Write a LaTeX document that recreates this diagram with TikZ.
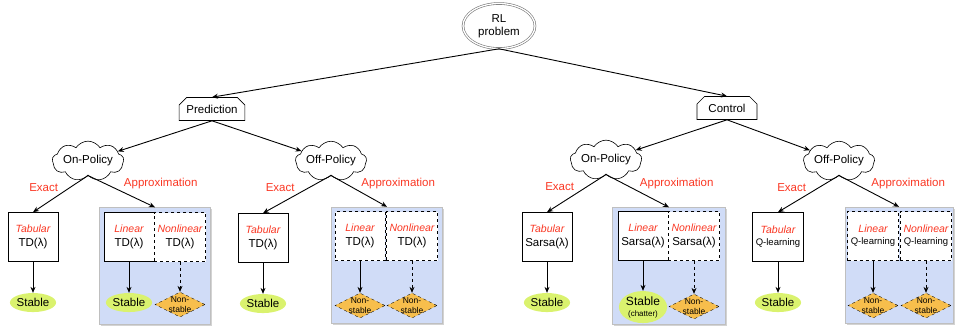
\documentclass[tikz,border=0pt]{standalone}
\usepackage{fontspec}
\setmainfont{Liberation Sans}
\usetikzlibrary{shapes.geometric, shapes.symbols, shapes.misc, arrows.meta, positioning, shadows}

\definecolor{lblred}{RGB}{250,55,35}
\definecolor{regionblue}{RGB}{208,220,247}
\definecolor{stablegreen}{RGB}{218,242,110}
\definecolor{unstableorange}{RGB}{247,190,76}

% red italic method kind above the algorithm name
\newcommand{\algkind}[1]{{\fontsize{10.5}{11}\selectfont\itshape\color{lblred}#1}}

\begin{document}
\begin{tikzpicture}[x=1pt, y=-1pt,
    root/.style={ellipse, draw=black!55, line width=0.6pt, double=white, double distance=1.3pt, minimum width=72pt, minimum height=45pt, align=center, font=\fontsize{11.5}{13.5}\selectfont},
    task/.style={chamfered rectangle, chamfered rectangle corners={north west, north east}, chamfered rectangle xsep=4pt, draw, line width=0.6pt, minimum width=60pt, minimum height=23pt, font=\fontsize{11.5}{12}\selectfont},
    policy/.style={cloud, cloud puffs=9, cloud puff arc=115, aspect=2.5, draw, line width=0.6pt, minimum width=70pt, minimum height=31pt, inner sep=0pt, font=\fontsize{11.5}{12}\selectfont},
    algo/.style={rectangle, draw, line width=0.7pt, fill=white, minimum width=50pt, minimum height=49pt, align=center, font=\fontsize{11.5}{14}\selectfont},
    region/.style={rectangle, draw=black!25, fill=regionblue, drop shadow={opacity=0.35, shadow xshift=1.5pt, shadow yshift=-1.5pt}},
    stable/.style={ellipse, fill=stablegreen, minimum width=41pt, minimum height=19pt, inner sep=0pt, align=center, font=\fontsize{11.5}{12}\selectfont},
    unstable/.style={diamond, draw, dashed, fill=unstableorange, aspect=1.9, minimum width=50pt, minimum height=25pt, inner sep=-1pt, align=center, font=\fontsize{8.5}{9.5}\selectfont},
    branch/.style={font=\fontsize{11.5}{12}\selectfont, text=lblred, inner sep=2pt},
    arrow/.style={-{Stealth[length=6pt, width=5pt]}, line width=0.9pt},
    node distance=31pt
]
    \useasboundingbox (0,0) rectangle (955,327);

    % top of the tree
    \node[root] (rl) at (499,26) {RL\\problem};
    \node[task] (pred) at (212,109) {Prediction};
    \node[task] (ctrl) at (727,108) {Control};

    \node[policy] (pon) at (88,161) {On-Policy};
    \node[policy] (poff) at (331,161) {Off-Policy};
    \node[policy] (con) at (606,160) {On-Policy};
    \node[policy] (coff) at (839,161) {Off-Policy};

    \draw[arrow] (rl.south) -- (pred.north);
    \draw[arrow] (rl.south) -- (ctrl.north);
    \draw[arrow] (pred.south) -- (pon);
    \draw[arrow] (pred.south) -- (poff);
    \draw[arrow] (ctrl.south) -- (con);
    \draw[arrow] (ctrl.south) -- (coff);

    % shaded approximation groups
    \node[region, minimum width=111pt, minimum height=117pt] (pon-apx) at (155,266) {};
    \node[region, minimum width=111pt, minimum height=116pt] (poff-apx) at (387,265) {};
    \node[region, minimum width=113pt, minimum height=117pt] (con-apx) at (669,266) {};
    \node[region, minimum width=108pt, minimum height=116pt] (coff-apx) at (899,265) {};

    % prediction, on-policy
    \node[algo] (pon-tab) at (33,237) {\algkind{Tabular}\\TD(λ)};
    \node[algo] (pon-lin) at (129,237) {\algkind{Linear}\\TD(λ)};
    \node[algo, dashed] (pon-nl) at (180,237) {\algkind{Nonlinear}\\TD(λ)};
    \node[stable, below=of pon-tab] (pon-tab-s) {Stable};
    \node[stable, below=of pon-lin] (pon-lin-s) {Stable};
    \node[unstable, below=30pt of pon-nl] (pon-nl-s) {Non-\\stable};

    % prediction, off-policy
    \node[algo] (poff-tab) at (263,238) {\algkind{Tabular}\\TD(λ)};
    \node[algo, dashed] (poff-lin) at (360,236) {\algkind{Linear}\\TD(λ)};
    \node[algo, dashed] (poff-nl) at (412,236) {\algkind{Nonlinear}\\TD(λ)};
    \node[stable, below=of poff-tab] (poff-tab-s) {Stable};
    \node[unstable, below=32pt of poff-lin] (poff-lin-s) {Non-\\stable};
    \node[unstable, below=32pt of poff-nl] (poff-nl-s) {Non-\\stable};

    % control, on-policy
    \node[algo] (con-tab) at (547,237) {\algkind{Tabular}\\Sarsa(λ)};
    \node[algo] (con-lin) at (643,236) {\algkind{Linear}\\Sarsa(λ)};
    \node[algo, dashed] (con-nl) at (694,236) {\algkind{Nonlinear}\\Sarsa(λ)};
    \node[stable, below=of con-tab] (con-tab-s) {Stable};
    \node[stable, minimum width=43pt, minimum height=32pt, below=30pt of con-lin] (con-lin-s) {\fontsize{12}{12}\selectfont Stable\\[-1pt]{\fontsize{8}{8}\selectfont(chatter)}};
    \node[unstable, below=33pt of con-nl] (con-nl-s) {Non-\\stable};

    % control, off-policy
    \node[algo, font=\fontsize{9.5}{12}\selectfont] (coff-tab) at (778,237) {\algkind{Tabular}\\Q-learning};
    \node[algo, dashed, font=\fontsize{9.5}{12}\selectfont] (coff-lin) at (873,236) {\algkind{Linear}\\Q-learning};
    \node[algo, dashed, font=\fontsize{9.5}{12}\selectfont] (coff-nl) at (926,236) {\algkind{Nonlinear}\\Q-learning};
    \node[stable, below=of coff-tab] (coff-tab-s) {Stable};
    \node[unstable, below=32pt of coff-lin] (coff-lin-s) {Non-\\stable};
    \node[unstable, below=32pt of coff-nl] (coff-nl-s) {Non-\\stable};

    % exact / approximation branches
    \foreach \p in {pon, poff, con, coff} {
        \draw[arrow] (\p.south) -- node[branch, above left] {Exact} (\p-tab.north);
        \draw[arrow] (\p.south) -- node[branch, above right] {Approximation} (\p-apx.north);
        \draw[arrow] (\p-tab) -- (\p-tab-s);
    }

    % outcome arrows
    \draw[arrow] (pon-lin) -- (pon-lin-s);
    \draw[arrow, dashed] (pon-nl) -- (pon-nl-s);
    \draw[arrow] (poff-lin) -- (poff-lin-s);
    \draw[arrow, dashed] (poff-nl) -- (poff-nl-s);
    \draw[arrow] (con-lin) -- (con-lin-s);
    \draw[arrow, dashed] (con-nl) -- (con-nl-s);
    \draw[arrow] (coff-lin) -- (coff-lin-s);
    \draw[arrow, dashed] (coff-nl) -- (coff-nl-s);
\end{tikzpicture}
\end{document}
